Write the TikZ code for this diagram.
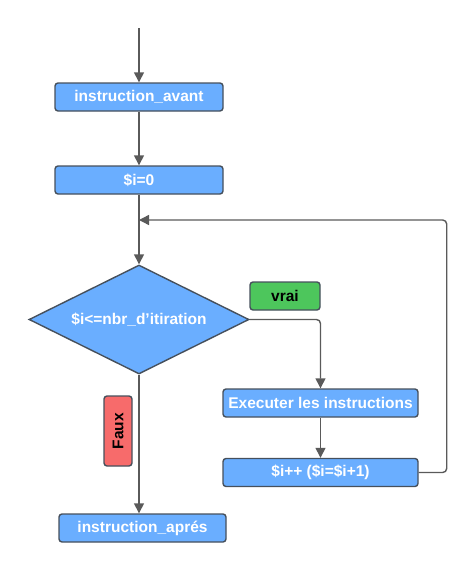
\documentclass[tikz,border=0pt]{standalone}
\usepackage{fontspec}
\setmainfont{Liberation Sans}
\usetikzlibrary{shapes.geometric,arrows.meta}
\definecolor{boxblue}{HTML}{6AAEFF}
\definecolor{boxgreen}{HTML}{4DC65C}
\definecolor{boxred}{HTML}{F76B6B}
\definecolor{edge}{HTML}{46505C}
\definecolor{wire}{HTML}{5A5A5A}
\tikzset{
  box/.style={draw=edge, line width=1.4pt, rounded corners=3pt, fill=boxblue, text=white,
    font=\fontsize{15.5}{18}\selectfont\bfseries, minimum height=28pt, inner sep=0pt},
  tag/.style={draw=edge, line width=1.4pt, rounded corners=3pt, text=black,
    font=\fontsize{15.5}{18}\selectfont\bfseries, inner sep=0pt},
  arrow/.style={draw=wire, line width=1.4pt, -{Triangle[width=10pt,length=10pt]}}
}
\begin{document}
\begin{tikzpicture}[x=1pt,y=-1pt]
\useasboundingbox (0,0) rectangle (474,570);
% boxes
\coordinate (start) at (139,28);
\node [box, minimum width=168pt] (avant) at (139,97) {instruction\_avant};
\node [box, minimum width=168pt] (init) at (139,180) {\$i=0};
\node [box, diamond, aspect=2, rounded corners=0pt, minimum width=220pt, minimum height=109pt] (cond) at (139,319.5) {\$i<=nbr\_d'itiration};
\node [box, minimum width=195pt] (exec) at (320.5,403) {Executer les instructions};
\node [box, minimum width=195pt] (incr) at (320.5,472.5) {\$i++ (\$i=\$i+1)};
\node [box, minimum width=167pt] (apres) at (142.5,528) {instruction\_aprés};
% labels
\node [tag, fill=boxgreen, minimum width=70pt, minimum height=28pt] (vrai) at (285,296) {vrai};
\node [tag, fill=boxred, minimum width=28pt, minimum height=70pt] (faux) at (118,431) {\rotatebox{90}{Faux}};
% arrows
\draw [arrow] (start) -- (avant.north);
\draw [arrow] (avant.south) -- (init.north);
\draw [arrow] (init.south) -- (cond.north);
\draw [arrow, rounded corners=4pt] (cond.east) -| (exec.north);
\draw [arrow] (exec.south) -- (incr.north);
\coordinate (join) at (139,220);
\draw [arrow, rounded corners=4pt] (incr.east) -- ++(28,0) |- (join);
\draw [arrow] (cond.south) -- (cond.south |- apres.north);
\end{tikzpicture}
\end{document}
